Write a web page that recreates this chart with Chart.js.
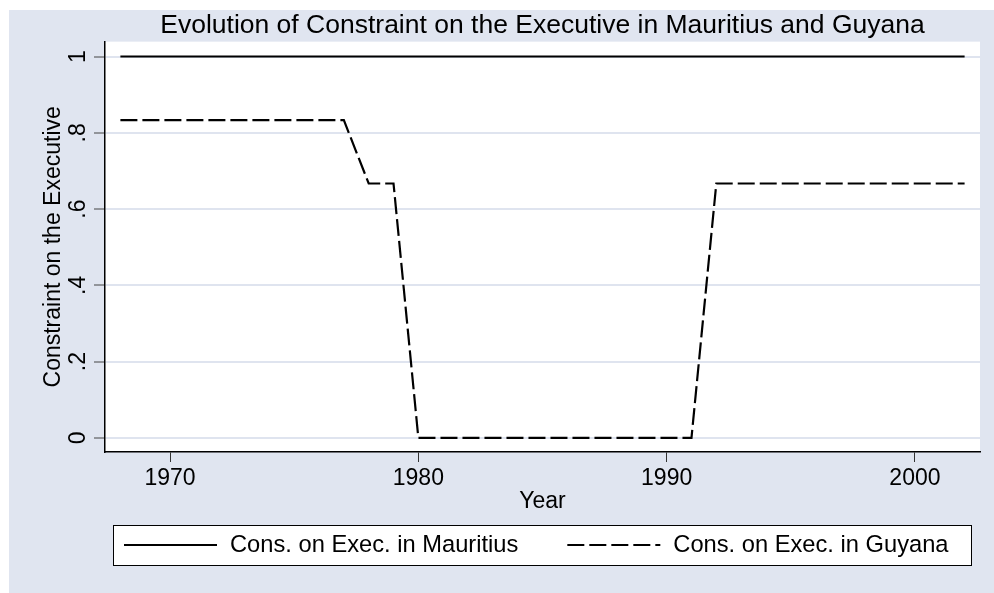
<!DOCTYPE html>
<html><head><meta charset="utf-8">
<script src="https://cdn.jsdelivr.net/npm/chart.js@4.4.1/dist/chart.umd.min.js"></script>
<style>html,body{margin:0;padding:0;background:#fff;}canvas{display:block;}</style>
</head><body>
<canvas id="c" width="994" height="593"></canvas>
<script>
const years = [1968,1969,1970,1971,1972,1973,1974,1975,1976,1977,1978,1979,1980,1981,1982,1983,1984,1985,1986,1987,1988,1989,1990,1991,1992,1993,1994,1995,1996,1997,1998,1999,2000,2001,2002];
const mauritius = [1,1,1,1,1,1,1,1,1,1,1,1,1,1,1,1,1,1,1,1,1,1,1,1,1,1,1,1,1,1,1,1,1,1,1];
const guyana = [0.833,0.833,0.833,0.833,0.833,0.833,0.833,0.833,0.833,0.833,0.667,0.667,0,0,0,0,0,0,0,0,0,0,0,0,0.667,0.667,0.667,0.667,0.667,0.667,0.667,0.667,0.667,0.667,0.667];
const seriesLabels = ['Cons. on Exec. in Mauritius','Cons. on Exec. in Guyana'];
const yTickValues = [0,0.2,0.4,0.6,0.8,1];
const yTickLabels = ['0','.2','.4','.6','.8','1'];
const xTickValues = [1970,1980,1990,2000];
const titleText = 'Evolution of Constraint on the Executive in Mauritius and Guyana';
const xTitle = 'Year';
const yTitle = 'Constraint on the Executive';

const FONT = "'Liberation Sans', Arial, Helvetica, sans-serif";
const FS = 23;
const LEG_FS = 23.7;

const bgPlugin = {
  id: 'bg',
  beforeDraw(chart) {
    const {ctx, chartArea: a, width, height} = chart;
    ctx.save();
    ctx.fillStyle = '#ffffff'; ctx.fillRect(0, 0, width, height);
    ctx.fillStyle = '#e0e5f0'; ctx.fillRect(9, 10, width - 9, height - 10);
    ctx.fillStyle = '#ffffff'; ctx.fillRect(a.left, a.top, a.right - a.left, a.bottom - a.top);
    ctx.restore();
  }
};

const legendPlugin = {
  id: 'boxLegend',
  afterDraw(chart) {
    const {ctx, chartArea: a} = chart;
    const xs = chart.scales.x;
    const top = xs.bottom + 10, h = 40;
    const left = a.left + 8, right = a.right - 9;
    ctx.save();
    ctx.fillStyle = '#fff'; ctx.fillRect(left, top, right - left, h);
    ctx.strokeStyle = '#000'; ctx.lineWidth = 1; ctx.strokeRect(left + 0.5, top + 0.5, right - left, h);
    ctx.font = LEG_FS + 'px ' + FONT; ctx.textBaseline = 'middle'; ctx.fillStyle = '#000';
    const cy = top + h / 2;
    let x = left + 11;
    chart.data.datasets.forEach(ds => {
      ctx.setLineDash(ds.borderDash || []);
      ctx.lineWidth = ds.borderWidth; ctx.strokeStyle = ds.borderColor;
      ctx.beginPath(); ctx.moveTo(x, cy); ctx.lineTo(x + 93, cy); ctx.stroke();
      ctx.setLineDash([]);
      x += 93 + 13;
      ctx.fillText(ds.label, x, cy);
      x += ctx.measureText(ds.label).width + 49;
    });
    ctx.restore();
  }
};

new Chart(document.getElementById('c'), {
  type: 'line',
  data: {
    datasets: [
      { label: seriesLabels[0], data: years.map((y, i) => ({x: y, y: mauritius[i]})),
        borderColor: '#000', borderWidth: 2, pointRadius: 0, tension: 0, fill: false },
      { label: seriesLabels[1], data: years.map((y, i) => ({x: y, y: guyana[i]})),
        borderColor: '#000', borderWidth: 2.2, borderDash: [17, 5], pointRadius: 0, tension: 0, fill: false }
    ]
  },
  options: {
    responsive: false, animation: false, devicePixelRatio: 1,
    layout: { padding: { left: 9, top: 10, right: 14, bottom: 78 } },
    plugins: {
      legend: { display: false },
      tooltip: { enabled: false },
      title: { display: true, fullSize: false, text: titleText, color: '#000',
        font: { family: FONT, size: 26.5, weight: 'normal', lineHeight: 1.1 }, padding: { top: 1.5, bottom: 1 } }
    },
    scales: {
      x: {
        type: 'linear', min: 1967.38, max: 2002.62,
        afterBuildTicks: s => { s.ticks = xTickValues.map(v => ({value: v})); },
        afterFit: s => { s.height = 63; },
        grid: { drawOnChartArea: false, drawTicks: true, tickLength: 10, tickColor: '#333', tickWidth: 1 },
        border: { display: true, color: '#000', width: 1.5 },
        ticks: { font: { family: FONT, size: FS }, color: '#000', padding: 3, maxRotation: 0, autoSkip: false,
          callback: v => String(v) },
        title: { display: true, text: xTitle, color: '#000', font: { family: FONT, size: FS }, padding: { top: 0, bottom: 0 } }
      },
      y: {
        min: -0.037, max: 1.039,
        afterBuildTicks: s => { s.ticks = yTickValues.map(v => ({value: v})); },
        afterFit: s => { s.width = 96; },
        grid: { color: '#dfe4ef', lineWidth: 2, tickColor: '#444', tickLength: 11, tickWidth: 1 },
        border: { display: true, color: '#000', width: 1.5 },
        ticks: { font: { family: FONT, size: FS }, color: '#000', minRotation: 90, maxRotation: 90,
          crossAlign: 'center', padding: 6, autoSkip: false,
          callback: v => { const i = yTickValues.findIndex(t => Math.abs(t - v) < 1e-9); return i >= 0 ? yTickLabels[i] : ''; } },
        title: { display: true, text: yTitle, color: '#000', font: { family: FONT, size: FS }, padding: { top: 31, bottom: 0 } }
      }
    }
  },
  plugins: [bgPlugin, legendPlugin]
});
</script>
</body></html>
